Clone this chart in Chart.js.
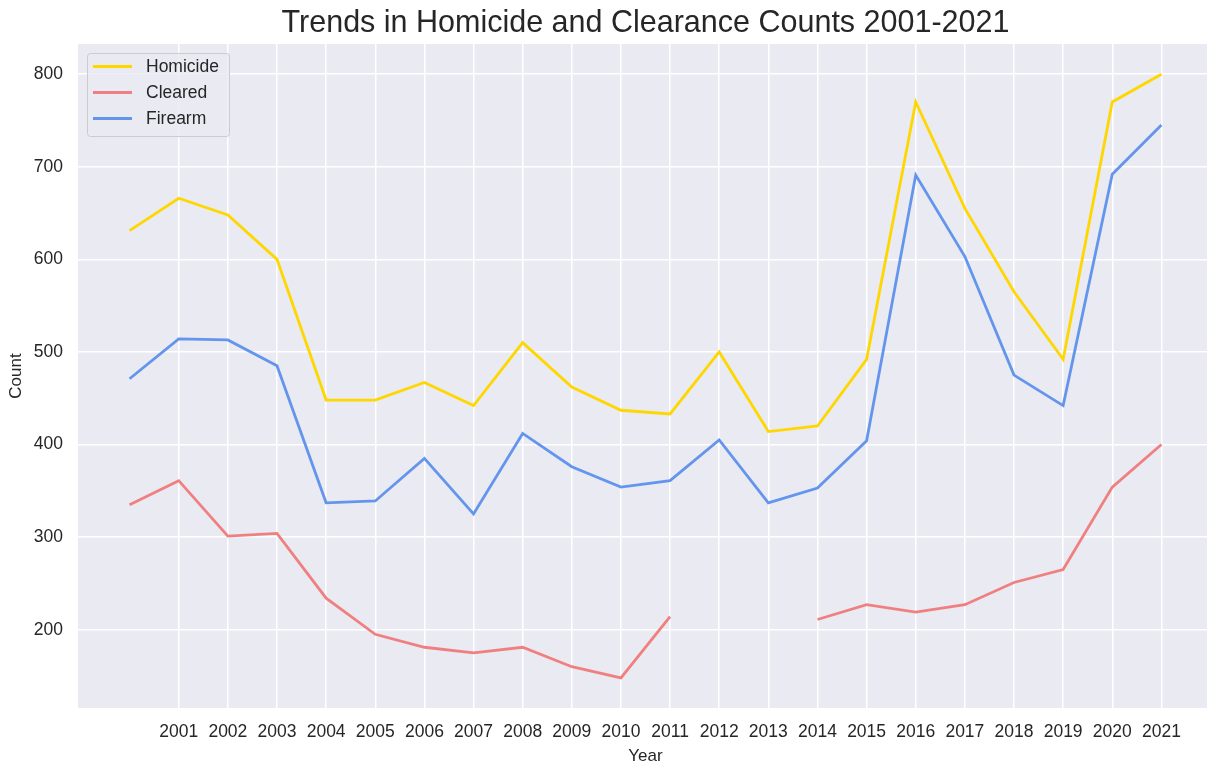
<!DOCTYPE html>
<html><head><meta charset="utf-8">
<script src="https://cdn.jsdelivr.net/npm/chart.js@4"></script>
<style>html,body{margin:0;padding:0;background:#fff;overflow:hidden;width:1207px;height:764px}#wrap{width:1207px;height:764px;overflow:hidden}</style>
</head><body><div id="wrap"><canvas id="c" width="1240" height="767"></canvas></div>
<script>
const tickLabels = ['2001','2002','2003','2004','2005','2006','2007','2008','2009','2010','2011','2012','2013','2014','2015','2016','2017','2018','2019','2020','2021'];
const pointIndex = [0,1,2,3,4,5,6,7,8,9,10,11,12,13,14,15,16,17,18,19,20,21];
const homicide = [631,666,648,600,448,448,467,442,510,462,437,433,500,414,420,492,770,655,565,492,770,800];
const cleared  = [335,361,301,304,234,195,181,175,181,160,148,214,null,null,211,227,219,227,251,265,354,400];
const firearm  = [471,514,513,485,337,339,385,325,412,376,354,361,405,337,353,404,691,603,475,442,692,745];
const yTicks = [200,300,400,500,600,700,800];
const titleText = 'Trends in Homicide and Clearance Counts 2001-2021';

const toPts = arr => arr.map((v,i)=>({x:pointIndex[i], y:v}));
const textColor = '#262626';
const fontFam = '"Liberation Sans", Arial, sans-serif';

const bgPlugin = {
  id:'bg',
  beforeDraw(chart){
    const {ctx, chartArea:a} = chart;
    ctx.save(); ctx.fillStyle='#EAEAF2'; ctx.fillRect(a.left,a.top,a.right-a.left,a.bottom-a.top); ctx.restore();
  },
  afterDraw(chart){
    const {ctx, chartArea:a} = chart;
    ctx.save();
    ctx.fillStyle=textColor; ctx.font='30.5px '+fontFam; ctx.textAlign='center'; ctx.textBaseline='alphabetic';
    ctx.fillText(titleText,(a.left+a.right)/2,32);
    // legend
    const x0=87,y0=53,w=142,h=83;
    ctx.fillStyle='rgba(234,234,242,0.8)';
    ctx.strokeStyle='#cccccc'; ctx.lineWidth=1;
    ctx.beginPath(); ctx.roundRect(x0+0.5,y0+0.5,w,h,3); ctx.fill(); ctx.stroke();
    ctx.font='17.5px '+fontFam; ctx.textAlign='left'; ctx.textBaseline='middle';
    chart.data.datasets.forEach((ds,i)=>{
      const y=y0+13.5+i*26;
      ctx.strokeStyle=ds.borderColor; ctx.lineWidth=2.8; ctx.lineCap='butt';
      ctx.beginPath(); ctx.moveTo(93,y); ctx.lineTo(132,y); ctx.stroke();
      ctx.fillStyle=textColor; ctx.fillText(ds.label,146,y+1);
    });
    ctx.restore();
  }
};

new Chart(document.getElementById('c'),{
  type:'line',
  data:{datasets:[
    {label:'Homicide',data:toPts(homicide),borderColor:'#FFD700',borderWidth:2.8,pointRadius:0,tension:0,fill:false},
    {label:'Cleared',data:toPts(cleared),borderColor:'#F08080',borderWidth:2.8,pointRadius:0,tension:0,fill:false,spanGaps:false},
    {label:'Firearm',data:toPts(firearm),borderColor:'#6495ED',borderWidth:2.8,pointRadius:0,tension:0,fill:false}
  ]},
  options:{
    responsive:false,animation:false,
    layout:{padding:{top:44,left:6,right:27,bottom:0}},
    plugins:{legend:{display:false},tooltip:{enabled:false},title:{display:false}},
    scales:{
      x:{type:'linear',min:-1.05,max:22.05,
        afterBuildTicks(s){s.ticks=tickLabels.map((l,i)=>({value:i+1}));},
        afterFit(s){s.height=59;s.paddingLeft=0;s.paddingRight=0;},
        grid:{color:'#ffffff',lineWidth:1.5,drawTicks:false},
        border:{display:false},
        ticks:{autoSkip:false,maxRotation:0,padding:14,color:textColor,font:{family:fontFam,size:17.5},callback:(v)=>tickLabels[Math.round(v)-1]},
        title:{display:true,text:'Year',color:textColor,font:{family:fontFam,size:17},padding:{top:0,bottom:0}}
      },
      y:{type:'linear',min:115.4,max:832.6,
        afterBuildTicks(s){s.ticks=yTicks.map(v=>({value:v}));},
        afterFit(s){s.width=72;s.paddingTop=0;s.paddingBottom=0;},
        grid:{color:'#ffffff',lineWidth:1.5,drawTicks:false},
        border:{display:false},
        ticks:{padding:15,color:textColor,font:{family:fontFam,size:17.5}},
        title:{display:true,text:'Count',color:textColor,font:{family:fontFam,size:17},padding:{top:0,bottom:0}}
      }
    }
  },
  plugins:[bgPlugin]
});
</script></body></html>
